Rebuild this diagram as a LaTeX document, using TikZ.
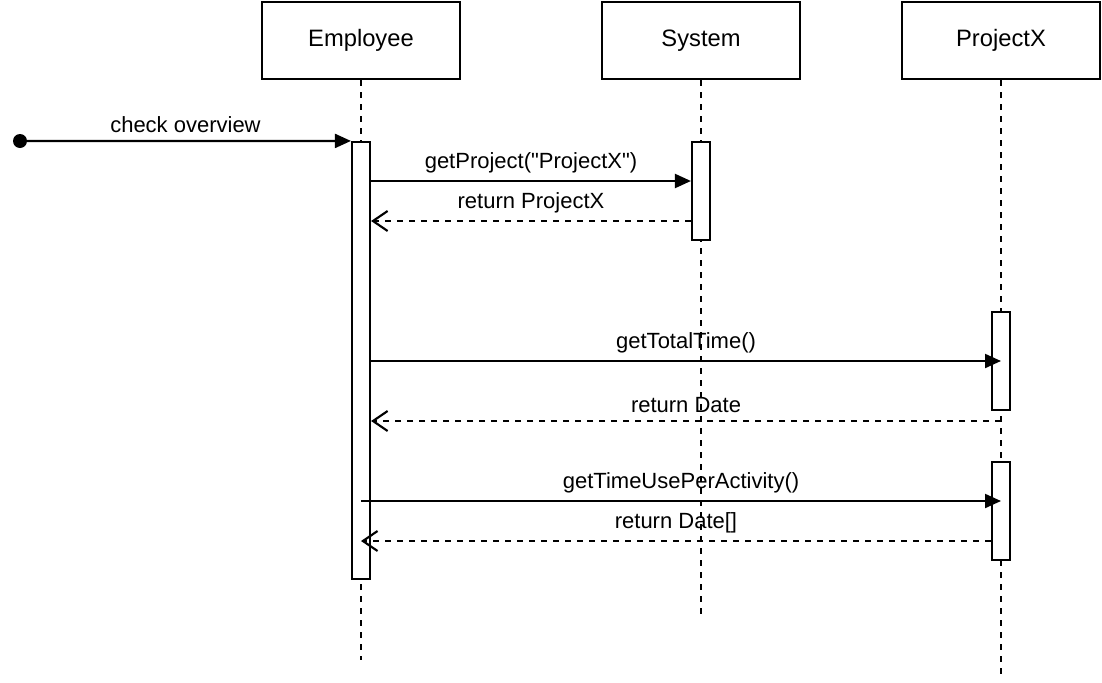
\documentclass[tikz,border=0pt]{standalone}
\usepackage{fontspec}
\setmainfont{Liberation Sans}[Ligatures=TeXOff]
\usepackage{tikz}
\usetikzlibrary{arrows.meta, positioning, calc}

\begin{document}
\begin{tikzpicture}[
    x=0.75pt, y=-0.75pt,
    font=\fontsize{16.5}{19}\selectfont,
    lifebox/.style={rectangle, draw, line width=1.6pt, fill=white, minimum width=148.5pt, minimum height=57.75pt, inner sep=0pt, font=\fontsize{17.8}{21}\selectfont},
    act/.style={rectangle, draw, line width=1.6pt, fill=white, minimum width=13.5pt, minimum height=73.5pt, inner sep=0pt},
    lifeline/.style={draw, line width=1.6pt, dash pattern=on 4.5pt off 4.5pt},
    msg/.style={draw, line width=1.6pt, -{Triangle[length=12pt, width=10.5pt]}},
    ret/.style={draw, line width=1.6pt, dash pattern=on 4.5pt off 4.5pt, -{Straight Barb[length=11pt, width=15pt]}},
    lbl/.style={above, inner sep=0pt, yshift=5.5pt}
]
    \useasboundingbox (0,0) rectangle (1102,682);

    % Lifeline heads
    \node (emp) [lifebox] at (361,40.5) {Employee};
    \node (sys) [lifebox] at (701,40.5) {System};
    \node (prx) [lifebox] at (1001,40.5) {ProjectX};

    % Lifeline ends
    \coordinate (empend) at (361,660);
    \coordinate (sysend) at (701,614);
    \coordinate (prxend) at (1001,675);

    \path [lifeline] (emp.south) -- (empend);
    \path [lifeline] (sys.south) -- (sysend);
    \path [lifeline] (prx.south) -- (prxend);

    % Activations
    \node (empact) [act, minimum height=327.75pt] at (361,360.5) {};
    \node (sysact) [act] at (701,191) {};
    \node (prxact1) [act] at (1001,361) {};
    \node (prxact2) [act] at (1001,511) {};

    % Message rows
    \coordinate (start) at (20,141);
    \coordinate (m1) at (0,181);
    \coordinate (m2) at (0,221);
    \coordinate (m3) at (0,361);
    \coordinate (m4) at (0,421);
    \coordinate (m5) at (0,501);
    \coordinate (m6) at (0,541);

    % Messages
    \fill (start) circle (5.25pt);
    \path [msg] (start) -- node[lbl] {check overview} (empact.north west);
    \path [msg] (empact.east |- m1) -- node[lbl] {getProject("ProjectX")} (sysact.west |- m1);
    \path [ret] (sysact.west |- m2) -- node[lbl] {return ProjectX} (empact.east |- m2);
    \path [msg] (empact.east |- m3) -- node[lbl] {getTotalTime()} (prxact1.center |- m3);
    \path [ret] (prxact1.south |- m4) -- node[lbl] {return Date} (empact.east |- m4);
    \path [msg] (empact.center |- m5) -- node[lbl] {getTimeUsePerActivity()} (prxact2.center |- m5);
    \path [ret] (prxact2.west |- m6) -- node[lbl] {return Date[]} (empact.center |- m6);

\end{tikzpicture}
\end{document}
